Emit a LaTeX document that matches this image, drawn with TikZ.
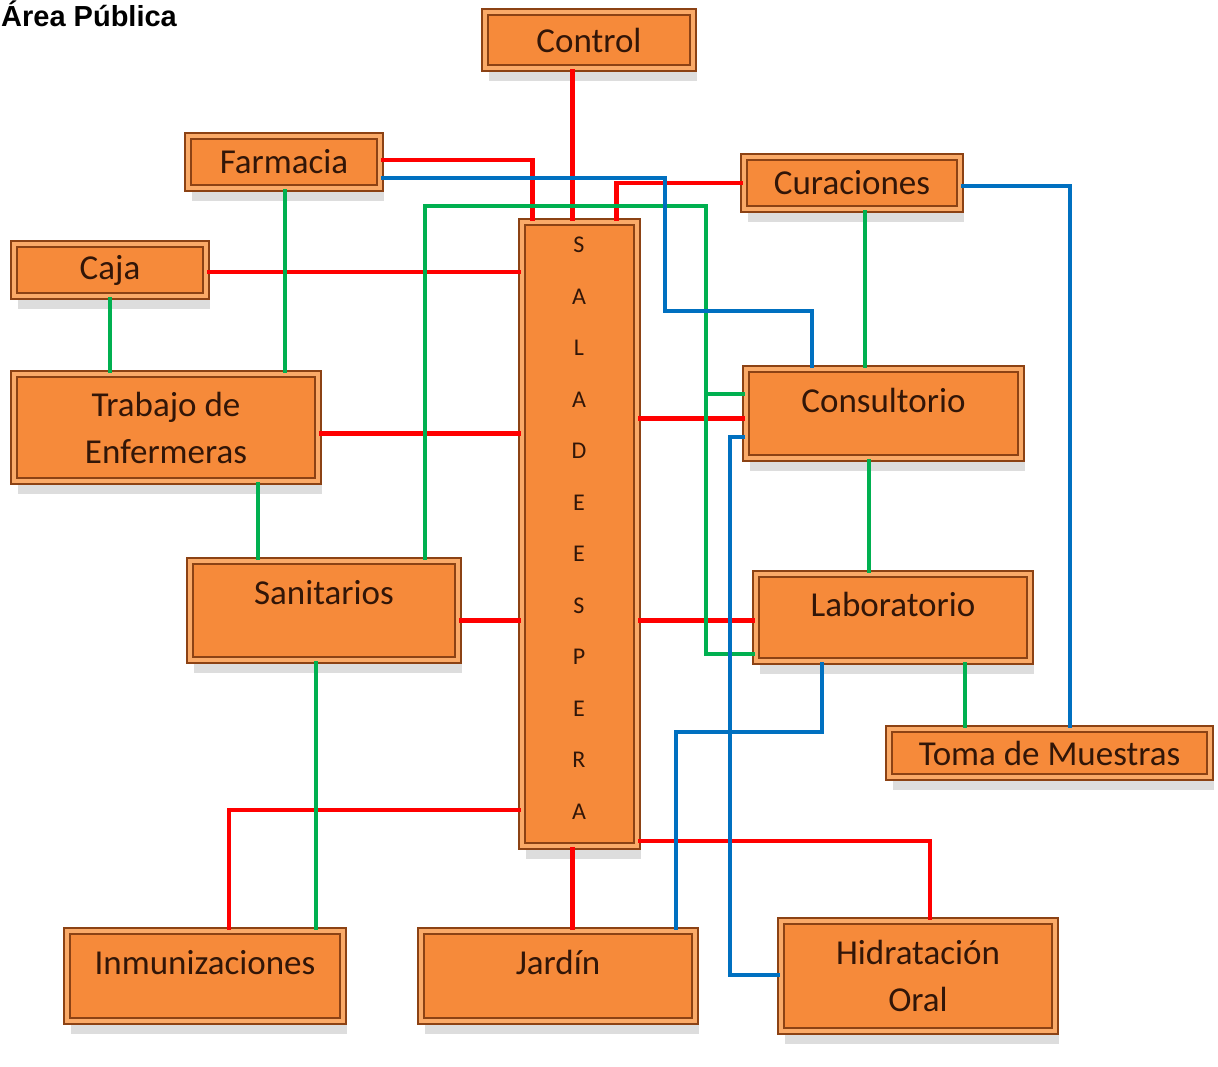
\documentclass[tikz,border=0pt]{standalone}
\usepackage{fontspec}
\setmainfont{Carlito}
\newfontfamily\titlefont{Liberation Sans}
\usetikzlibrary{calc, shadows}
\definecolor{naranja}{RGB}{246,138,58}
\definecolor{borde}{RGB}{140,66,20}
\definecolor{banda}{RGB}{250,170,104}
\definecolor{texto}{RGB}{50,22,8}
\definecolor{rojoL}{RGB}{255,0,0}
\definecolor{verdeL}{RGB}{0,176,80}
\definecolor{azulL}{RGB}{0,112,192}
\begin{document}
\begin{tikzpicture}[
  % one unit = one pixel of the plan, y runs downwards
  x=1pt, y=-1pt, font=\fontsize{35}{47}\selectfont,
  bx/.style={draw=borde, double=banda, double distance=3.5pt, line width=2.2pt, fill=naranja,
    text=texto, align=center, inner sep=0pt, minimum width=#1,
    drop shadow={shadow xshift=4pt, shadow yshift=-13pt, opacity=.22, fill=black!60}},
  alto/.style={text depth=#1},
  letra/.style={font=\fontsize{24}{24}\selectfont, text=texto, inner sep=0pt},
  rojo/.style={line width=4.5pt, rojoL},
  verde/.style={line width=4.5pt, verdeL},
  azul/.style={line width=4.5pt, azulL},
]
\useasboundingbox (0,0) rectangle (1218,1066);
\node[anchor=base west, inner sep=0pt, font=\titlefont\bfseries\fontsize{29}{29}\selectfont] (titulo) at (1,26) {Área Pública};
% areas
\node[bx=208pt, minimum height=56pt] (control) at (589,40) {Control};
\node[bx=192pt, minimum height=52pt] (farmacia) at (284,162) {Farmacia};
\node[bx=216pt, minimum height=52pt] (curaciones) at (852,183) {Curaciones};
\node[bx=192pt, minimum height=52pt] (caja) at (110,270) {Caja};
\node[bx=115pt, minimum height=624pt] (sala) at (579.5,534) {};
\foreach \l [count=\i] in {S,A,L,A,D,E,E,S,P,E,R,A}
  \node[letra] (l\i) at (579, {245+51.5*(\i-1)}) {\l};
\node[bx=304pt, minimum height=107pt] (trabajo) at (166,427.5) {Trabajo de\\Enfermeras};
\node[bx=275pt, minimum height=89pt, alto=26pt] (consultorio) at (883.5,413.5) {Consultorio};
\node[bx=268pt, minimum height=99pt, alto=36pt] (sanitarios) at (324,610.5) {Sanitarios};
\node[bx=274pt, minimum height=87pt, alto=26pt] (laboratorio) at (893,617.5) {Laboratorio};
\node[bx=321pt, minimum height=48pt] (toma) at (1049.5,753) {Toma de Muestras};
\node[bx=276pt, minimum height=90pt, alto=28pt] (inmunizaciones) at (205,976) {Inmunizaciones};
\node[bx=274pt, minimum height=90pt, alto=28pt] (jardin) at (558,976) {Jardín};
\node[bx=274pt, minimum height=110pt] (hidratacion) at (918,976) {Hidratación\\Oral};
% red links, all to the waiting room
\draw[rojo] ([xshift=-7pt]sala.north) -- ([xshift=-7pt]sala.north |- control.south);
\draw[rojo] ([yshift=2pt]farmacia.east) -| ([xshift=-47pt]sala.north);
\draw[rojo] (curaciones.west) -| ([xshift=37pt]sala.north);
\draw[rojo] ([yshift=-2pt]caja.east) -- ([yshift=-2pt]caja.east -| sala.west);
\draw[rojo] ([yshift=-6pt]trabajo.east) -- ([yshift=-6pt]trabajo.east -| sala.west);
\draw[rojo] ([yshift=-5pt]consultorio.west) -- ([yshift=-5pt]consultorio.west -| sala.east);
\draw[rojo] ([yshift=-10pt]sanitarios.east) -- ([yshift=-10pt]sanitarios.east -| sala.west);
\draw[rojo] ([yshift=-3pt]laboratorio.west) -- ([yshift=-3pt]laboratorio.west -| sala.east);
\draw[rojo] ([yshift=-276pt]sala.west) -| ([xshift=24pt]inmunizaciones.north);
\draw[rojo] ([xshift=-7pt]sala.south) -- ([xshift=-7pt]sala.south |- jardin.north);
\draw[rojo] ([yshift=-307pt]sala.east) -| ([xshift=12pt]hidratacion.north);
% green links
\draw[verde] ([xshift=1pt]farmacia.south) -- ([xshift=1pt]farmacia.south |- trabajo.north);
\draw[verde] (caja.south) -- (caja.south |- trabajo.north);
\draw[verde] ([xshift=13pt]curaciones.south) -- ([xshift=13pt]curaciones.south |- consultorio.north);
\draw[verde] ([xshift=92pt]trabajo.south) -- ([xshift=92pt]trabajo.south |- sanitarios.north);
\draw[verde] ([xshift=101pt]sanitarios.north) -- ++(0,-354) -- ++(281,0) |- ([yshift=-36.5pt]laboratorio.west);
\draw[verde] ([yshift=19.5pt]consultorio.west) -- ++(-38,0);
\draw[verde] ([xshift=-14.5pt]consultorio.south) -- ([xshift=-14.5pt]consultorio.south |- laboratorio.north);
\draw[verde] ([xshift=72pt]laboratorio.south) -- ([xshift=72pt]laboratorio.south |- toma.north);
\draw[verde] ([xshift=-8pt]sanitarios.south) -- ([xshift=-8pt]sanitarios.south |- inmunizaciones.north);
% blue links
\draw[azul] ([yshift=-16pt]farmacia.east) -| ++(284,133) -| ([xshift=-71.5pt]consultorio.north);
\draw[azul] ([yshift=-3pt]curaciones.east) -| ([xshift=20.5pt]toma.north);
\draw[azul] ([yshift=-23.5pt]consultorio.west) -- ++(-15,0) |- ([yshift=1pt]hidratacion.west);
\draw[azul] ([xshift=-71pt]laboratorio.south) -- ++(0,70) -| ([xshift=118pt]jardin.north);
\end{tikzpicture}
\end{document}
